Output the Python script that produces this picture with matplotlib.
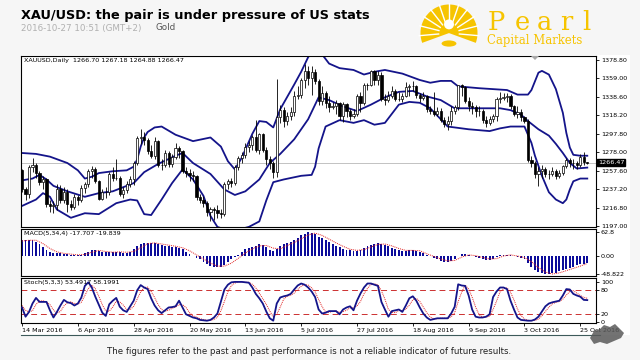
import matplotlib
matplotlib.use("Agg")
import matplotlib.pyplot as plt
from matplotlib.patches import Rectangle, Polygon, Wedge, Circle, Ellipse
import numpy as np

# ---- daily XAUUSD candles, 14 Mar 2016 .. 27 Oct 2016 ----
opens = [
    1258, 1238, 1232, 1262, 1264, 1255, 1245, 1248, 1221, 1219,
    1220, 1238, 1226, 1234, 1221, 1218, 1229, 1225, 1239, 1243,
    1257, 1260, 1246, 1227, 1234, 1234, 1254, 1250, 1250, 1232,
    1236, 1243, 1249, 1266, 1293, 1295, 1291, 1279, 1274, 1290,
    1264, 1264, 1277, 1265, 1273, 1282, 1279, 1257, 1255, 1253,
    1252, 1229, 1225, 1222, 1212, 1216, 1215, 1211, 1210, 1243,
    1246, 1244, 1262, 1272, 1275, 1284, 1286, 1295, 1280, 1298,
    1280, 1270, 1266, 1256, 1316, 1324, 1312, 1317, 1322, 1339,
    1341, 1357, 1367, 1359, 1366, 1356, 1334, 1343, 1332, 1327,
    1329, 1332, 1317, 1331, 1323, 1318, 1320, 1340, 1332, 1351,
    1351, 1367, 1357, 1363, 1336, 1335, 1340, 1345, 1336, 1336,
    1340, 1349, 1350, 1350, 1341, 1337, 1339, 1325, 1323, 1320,
    1323, 1313, 1309, 1312, 1323, 1327, 1351, 1349, 1334, 1328,
    1327, 1323, 1323, 1313, 1310, 1314, 1318, 1336, 1337, 1338,
    1339, 1328, 1320, 1322, 1316, 1312, 1269, 1266, 1254, 1257,
    1260, 1254, 1254, 1257, 1252, 1255, 1263, 1269, 1266, 1266,
    1264, 1273, 1266.70]
highs = [
    1260, 1240, 1264, 1272, 1266, 1257, 1252, 1250, 1225, 1224,
    1243, 1242, 1240, 1238, 1226, 1232, 1231, 1242, 1245, 1260,
    1263, 1262, 1247, 1238, 1240, 1256, 1262, 1270, 1252, 1240,
    1246, 1252, 1268, 1296, 1303, 1300, 1293, 1286, 1295, 1291,
    1270, 1280, 1279, 1276, 1288, 1285, 1280, 1262, 1259, 1257,
    1253, 1232, 1230, 1224, 1218, 1218, 1220, 1216, 1245, 1248,
    1250, 1264, 1274, 1278, 1288, 1290, 1297, 1313, 1299, 1299,
    1284, 1274, 1268, 1358, 1330, 1327, 1322, 1327, 1345, 1350,
    1359, 1375, 1372, 1372, 1369, 1358, 1350, 1345, 1340, 1333,
    1335, 1333, 1333, 1332, 1325, 1325, 1342, 1344, 1354, 1354,
    1368, 1368, 1367, 1366, 1342, 1345, 1350, 1347, 1344, 1343,
    1355, 1353, 1356, 1352, 1343, 1344, 1341, 1329, 1344, 1327,
    1326, 1316, 1318, 1328, 1330, 1352, 1353, 1350, 1338, 1333,
    1330, 1329, 1325, 1317, 1318, 1320, 1338, 1344, 1343, 1343,
    1342, 1330, 1328, 1325, 1318, 1314, 1274, 1268, 1262, 1264,
    1262, 1258, 1262, 1260, 1258, 1264, 1272, 1272, 1270, 1268,
    1276, 1278, 1267.18]
lows = [
    1234, 1226, 1228, 1256, 1250, 1242, 1238, 1218, 1212, 1211,
    1215, 1222, 1222, 1212, 1214, 1216, 1220, 1223, 1233, 1240,
    1250, 1244, 1225, 1225, 1228, 1231, 1246, 1247, 1230, 1228,
    1233, 1240, 1242, 1264, 1287, 1286, 1276, 1272, 1270, 1262,
    1258, 1262, 1262, 1262, 1270, 1272, 1255, 1251, 1246, 1246,
    1226, 1222, 1218, 1208, 1202, 1204, 1206, 1206, 1208, 1238,
    1240, 1242, 1258, 1266, 1272, 1278, 1280, 1278, 1276, 1278,
    1264, 1260, 1250, 1251, 1310, 1306, 1308, 1313, 1318, 1336,
    1337, 1348, 1352, 1341, 1353, 1330, 1330, 1326, 1322, 1325,
    1320, 1313, 1311, 1316, 1313, 1315, 1318, 1322, 1330, 1346,
    1350, 1352, 1352, 1334, 1330, 1333, 1337, 1334, 1334, 1333,
    1338, 1340, 1345, 1337, 1333, 1335, 1322, 1320, 1318, 1318,
    1311, 1306, 1302, 1308, 1320, 1324, 1340, 1332, 1323, 1320,
    1316, 1318, 1310, 1306, 1308, 1311, 1312, 1332, 1335, 1333,
    1325, 1317, 1315, 1312, 1310, 1267, 1262, 1250, 1241, 1250,
    1251, 1249, 1252, 1249, 1250, 1253, 1261, 1262, 1260, 1260,
    1262, 1264, 1264.88]
closes = [
    1238, 1232, 1262, 1264, 1255, 1245, 1248, 1221, 1219, 1220,
    1238, 1226, 1234, 1221, 1218, 1229, 1225, 1239, 1243, 1257,
    1260, 1246, 1227, 1234, 1234, 1254, 1250, 1250, 1232, 1236,
    1243, 1249, 1266, 1293, 1295, 1291, 1279, 1274, 1290, 1264,
    1264, 1277, 1265, 1273, 1282, 1279, 1257, 1255, 1253, 1252,
    1229, 1225, 1222, 1212, 1216, 1215, 1211, 1210, 1243, 1246,
    1244, 1262, 1272, 1275, 1284, 1286, 1295, 1280, 1298, 1280,
    1270, 1266, 1256, 1316, 1324, 1312, 1317, 1322, 1339, 1341,
    1357, 1367, 1359, 1366, 1356, 1334, 1343, 1332, 1327, 1329,
    1332, 1317, 1331, 1323, 1318, 1320, 1340, 1332, 1351, 1351,
    1367, 1357, 1363, 1336, 1335, 1340, 1345, 1336, 1336, 1340,
    1349, 1350, 1350, 1341, 1337, 1339, 1325, 1323, 1320, 1323,
    1313, 1309, 1312, 1323, 1327, 1351, 1349, 1334, 1328, 1327,
    1323, 1323, 1313, 1310, 1314, 1318, 1336, 1337, 1338, 1339,
    1328, 1320, 1322, 1316, 1312, 1269, 1266, 1254, 1257, 1260,
    1254, 1254, 1257, 1252, 1255, 1263, 1269, 1266, 1266, 1264,
    1273, 1267, 1266.47]

# Bollinger bands, read at the bars where they bend
bb_upper_idx = [0, 4, 8, 13, 16, 18, 20, 22, 26, 30, 32, 33, 34, 35, 36, 38, 40, 44, 49, 54,
                57, 59, 61, 63, 66, 68, 70, 72, 74, 78, 80, 82, 84, 86, 88, 91, 95, 98, 101, 104,
                109, 114, 117, 120, 123, 125, 131, 139, 142, 145, 146, 148, 149, 151, 153, 155, 156, 157, 158, 160, 162]
bb_upper = [1277, 1276, 1273, 1266, 1258, 1249, 1251, 1255, 1257, 1258, 1262, 1270, 1284, 1294, 1300, 1305, 1306, 1297, 1290, 1294,
            1284, 1268, 1259, 1272, 1298, 1312, 1311, 1305, 1325, 1352, 1366, 1382, 1392, 1385, 1375, 1370, 1368, 1363, 1366, 1368,
            1364, 1357, 1354, 1356, 1356, 1350, 1348, 1346, 1341, 1341, 1346, 1365, 1367, 1363, 1347, 1321, 1299, 1283, 1275, 1274, 1274]
bb_mid_idx = [0, 3, 5, 7, 9, 13, 18, 22, 26, 30, 32, 33, 35, 39, 44, 46, 49, 54, 58, 61,
              64, 68, 71, 74, 78, 82, 85, 88, 92, 96, 100, 104, 108, 112, 116, 120, 124, 130, 137, 140,
              143, 145, 148, 151, 153, 155, 157, 159, 162]
bb_mid = [1247, 1249, 1253, 1248, 1241, 1235, 1229, 1233, 1235, 1241, 1244, 1248, 1256, 1265, 1274, 1277, 1266, 1254, 1237, 1231,
          1235, 1248, 1266, 1276, 1292, 1314, 1338, 1335, 1328, 1323, 1330, 1338, 1344, 1345, 1339, 1335, 1326, 1326, 1326, 1324,
          1319, 1312, 1303, 1296, 1287, 1277, 1266, 1260, 1261]
bb_lower_idx = [0, 4, 6, 8, 10, 14, 18, 22, 27, 31, 33, 35, 37, 40, 43, 46, 49, 52, 54, 56,
                59, 62, 65, 68, 70, 72, 75, 80, 83, 84, 85, 87, 91, 95, 98, 101, 104, 106, 108, 111,
                114, 117, 120, 122, 128, 134, 137, 140, 144, 146, 147, 149, 151, 153, 155, 156, 157, 158, 160, 162]
bb_lower = [1219, 1226, 1233, 1229, 1215, 1206, 1211, 1210, 1222, 1226, 1225, 1210, 1209, 1226, 1244, 1259, 1248, 1230, 1208, 1196,
            1192, 1193, 1196, 1202, 1225, 1245, 1248, 1252, 1253, 1262, 1282, 1306, 1313, 1310, 1313, 1308, 1310, 1320, 1330, 1333,
            1332, 1326, 1314, 1306, 1303, 1301, 1304, 1306, 1306, 1288, 1274, 1252, 1234, 1226, 1222, 1226, 1237, 1246, 1249, 1249]

# MACD(5,34,4) histogram per bar, signal every second bar
macd = [
    42, 43, 43, 42, 38, 32, 24, 17, 12, 9,
    8, 7, 6, 5, 3, 2, 2, 3, 7, 12,
    16, 17, 14, 11, 10, 10, 11, 12, 10, 9,
    8, 11, 18, 27, 33, 36, 36, 35, 34, 31,
    29, 28, 27, 25, 24, 22, 18, 11, 6, 1,
    -4, -9, -15, -22, -27, -29, -29, -28, -24, -16,
    -9, -3, 4, 12, 18, 22, 25, 28, 31, 29,
    24, 17, 14, 20, 27, 31, 34, 38, 42, 48,
    55, 60, 63, 62, 58, 52, 48, 43, 38, 33,
    28, 25, 20, 17, 15, 14, 14, 17, 22, 26,
    30, 33, 34, 33, 30, 26, 22, 19, 15, 14,
    14, 15, 16, 14, 11, 7, 3, 0, -4, -8,
    -12, -15, -15, -12, -7, 1, 5, 5, 3, 0,
    -3, -6, -8, -10, -10, -7, -2, 2, 4, 3,
    2, 0, -2, -5, -8, -18, -28, -36, -42, -46,
    -48.8, -48, -46, -44, -41, -38, -34, -31, -28, -25,
    -22, -20, -17.707]
macd_signal = [
    40, 42, 42, 33, 20, 11, 7, 5, 3, 4,
    10, 15, 12, 10, 11, 10, 12, 22, 33, 35,
    32, 29, 26, 22, 14, 3, -8, -19, -27, -27,
    -19, -6, 8, 19, 27, 28, 21, 19, 28, 36,
    46, 56, 61, 55, 45, 35, 26, 18, 15, 17,
    24, 31, 32, 27, 20, 15, 15, 14, 6, -1,
    -8, -13, -12, -3, 3, 1, -4, -8, -7, 0,
    3, 0, -4, -15, -31, -43, -48, -45, -39, -33,
    -27, -19.839]

# Stochastic(5,3,3)
stoch_main = [
    35, 12, 24, 45, 59, 49, 49, 49, 28, 10,
    24, 40, 54, 48, 46, 40, 45, 60, 89, 98,
    85, 62, 42, 22, 14, 43, 52, 59, 37, 28,
    24, 38, 52, 78, 91, 85, 81, 58, 40, 28,
    21, 28, 35, 36, 38, 52, 35, 18, 14, 10,
    8, 4, 3, 2, 4, 10, 20, 50, 80, 92,
    98, 99, 99, 99, 98, 97, 85, 69, 58, 45,
    25, 8, 2, 45, 60, 63, 65, 69, 80, 90,
    95, 92, 85, 75, 61, 30, 20, 22, 26, 26,
    26, 18, 30, 35, 38, 28, 52, 70, 85, 95,
    95, 92, 89, 49, 30, 12, 26, 28, 30, 24,
    40, 58, 63, 52, 35, 20, 10, 4, 6, 8,
    8, 8, 8, 20, 37, 93, 90, 89, 65, 30,
    12, 10, 10, 12, 18, 61, 75, 85, 85, 81,
    52, 30, 10, 4, 3, 2, 2, 5, 12, 25,
    38, 45, 48, 50, 52, 65, 81, 80, 69, 65,
    62, 54, 53.49]
stoch_signal = [
    40, 28, 24, 27, 43, 51, 52, 49, 42, 29,
    21, 25, 39, 47, 49, 45, 44, 48, 65, 82,
    91, 82, 63, 42, 26, 26, 36, 51, 49, 41,
    30, 30, 38, 56, 74, 85, 86, 75, 60, 42,
    30, 26, 28, 33, 36, 42, 42, 35, 22, 14,
    11, 7, 5, 3, 3, 5, 11, 27, 50, 74,
    90, 96, 99, 99, 98, 98, 93, 84, 71, 57,
    43, 26, 12, 18, 36, 56, 63, 66, 71, 80,
    88, 92, 91, 84, 74, 55, 37, 24, 23, 25,
    26, 23, 25, 28, 34, 34, 39, 50, 69, 83,
    92, 94, 92, 77, 56, 30, 23, 22, 28, 27,
    31, 41, 54, 58, 50, 36, 22, 11, 7, 7,
    8, 8, 8, 12, 22, 50, 73, 91, 81, 61,
    36, 17, 11, 11, 13, 30, 51, 74, 82, 84,
    73, 54, 31, 15, 6, 3, 2, 3, 6, 14,
    25, 36, 44, 48, 50, 56, 66, 75, 77, 71,
    65, 60, 58.20]

date_labels = ['14 Mar 2016', '6 Apr 2016', '28 Apr 2016', '20 May 2016', '13 Jun 2016', '5 Jul 2016',
               '27 Jul 2016', '18 Aug 2016', '9 Sep 2016', '3 Oct 2016', '25 Oct 2016']
price_ticks = [1378.80, 1359.00, 1338.60, 1318.20, 1297.80, 1278.00, 1257.60, 1237.20, 1216.80, 1197.00]
last_price = 1266.47

W, H = 640, 360


def rect(l, t, r, b):
    # pixel box -> figure fraction
    return [l / W, 1 - b / H, (r - l) / W, (b - t) / H]


def fx(x):
    return x / W


def fy(y):
    return 1 - y / H


fig = plt.figure(figsize=(6.4, 3.6), dpi=100, facecolor='#f6f6f6')
fig.patches.append(Rectangle((fx(21), fy(335)), (630 - 21) / W, (335 - 55) / H,
                             transform=fig.transFigure, facecolor='white', edgecolor='none', zorder=-5))

ax_p = fig.add_axes(rect(21, 56, 596, 227))
ax_m = fig.add_axes(rect(21, 229, 596, 276), sharex=ax_p)
ax_s = fig.add_axes(rect(21, 278, 596, 323), sharex=ax_p)

for ax in (ax_p, ax_m, ax_s):
    ax.set_facecolor('white')
    for sp in ax.spines.values():
        sp.set_linewidth(0.8)
        sp.set_color('black')
    ax.yaxis.tick_right()
    ax.tick_params(axis='y', length=2, width=0.6, labelsize=4.6, pad=1.5)
    ax.tick_params(axis='x', length=0, labelbottom=False)

ax_p.set_xlim(-0.3, 164.5)

# ---- price panel ----
o = np.array(opens)
h = np.array(highs)
lo = np.array(lows)
c = np.array(closes)
x = np.arange(len(c))
up = c >= o

ax_p.axhline(last_price, color='#b8b8b8', lw=0.6, zorder=1)
for idx, vals in ((bb_upper_idx, bb_upper), (bb_mid_idx, bb_mid), (bb_lower_idx, bb_lower)):
    ax_p.plot(idx, vals, color='#14148a', lw=1.3, zorder=2, solid_joinstyle='round')
ax_p.vlines(x, lo, h, color='black', lw=0.6, zorder=3)
ax_p.bar(x[up], c[up] - o[up], bottom=o[up], width=0.62, facecolor='white',
         edgecolor='black', linewidth=0.5, zorder=4)
ax_p.bar(x[~up], o[~up] - c[~up], bottom=c[~up], width=0.62, facecolor='black',
         edgecolor='black', linewidth=0.5, zorder=4)

ax_p.set_ylim(1195.9, 1383.3)
ax_p.set_yticks(price_ticks)
ax_p.set_yticklabels(['%.2f' % v for v in price_ticks])
ax_p.text(0.005, 0.988, 'XAUUSD,Daily  1266.70 1267.18 1264.88 1266.47', transform=ax_p.transAxes,
          fontsize=4.6, va='top', ha='left', color='black')
ax_p.annotate('1266.47', xy=(1, last_price), xycoords=('axes fraction', 'data'), xytext=(1.5, 0),
              textcoords='offset points', va='center', ha='left', fontsize=4.6, color='white',
              annotation_clip=False, zorder=10,
              bbox=dict(boxstyle='square,pad=0.15', fc='black', ec='black'))

# ---- MACD panel ----
ax_m.bar(x, macd, width=0.55, color='#0c0c9a', zorder=2)
ax_m.plot(x[::2], macd_signal, color='#e02020', lw=0.7, ls=(0, (1, 1)), zorder=3)
ax_m.set_ylim(-53.3, 72)
ax_m.set_yticks([62.8, 0.0, -48.822])
ax_m.set_yticklabels(['62.8', '0.00', '-48.822'])
ax_m.text(0.005, 0.95, 'MACD(5,34,4) -17.707 -19.839', transform=ax_m.transAxes,
          fontsize=4.6, va='top', ha='left', color='black')

# ---- Stochastic panel ----
ax_s.axhline(80, color='#cc3030', lw=0.7, ls=(0, (6, 4)), zorder=1)
ax_s.axhline(20, color='#cc3030', lw=0.7, ls=(0, (6, 4)), zorder=1)
ax_s.plot(x, stoch_signal, color='#e02020', lw=0.7, ls=(0, (1, 1)), zorder=2)
ax_s.plot(x, stoch_main, color='#14148a', lw=1.3, zorder=3)
ax_s.set_ylim(-3.75, 108.75)
ax_s.set_yticks([100, 80, 20, 0])
ax_s.set_yticklabels(['100', '80', '20', '0'])
ax_s.text(0.005, 0.95, 'Stoch(5,3,3) 53.4917 58.1991', transform=ax_s.transAxes,
          fontsize=4.6, va='top', ha='left', color='black')
ax_s.set_xticks(np.arange(0, len(c), 16))
ax_s.set_xticklabels(date_labels, ha='left')
ax_s.tick_params(axis='x', length=2, width=0.6, labelbottom=True, labelsize=4.6, pad=1.5)

# small chart-shift marker, bottom frame line and the grey watermark blob
fig.patches.append(Polygon([(fx(531), fy(56)), (fx(539), fy(56)), (fx(535), fy(60))],
                           closed=True, transform=fig.transFigure, facecolor='#a8a8a8',
                           edgecolor='none', zorder=5))
fig.lines.append(plt.Line2D([fx(21), fx(600)], [fy(334.5), fy(334.5)], transform=fig.transFigure,
                            color='#3d5a5a', lw=0.8))
blob = [(590, 338), (594, 331), (600, 329), (604, 325), (610, 327), (615, 324), (620, 329),
        (624, 333), (621, 338), (614, 341), (607, 344), (600, 342), (594, 344)]
fig.patches.append(Polygon([(fx(a), fy(b)) for a, b in blob], closed=True,
                           transform=fig.transFigure, facecolor='#5a5a5a', edgecolor='none',
                           alpha=0.85, zorder=6))

# ---- header ----
fig.text(fx(21), fy(16), 'XAU/USD: the pair is under pressure of US stats', fontsize=9.3,
         fontweight='bold', va='center', ha='left', color='black')
fig.text(fx(21), fy(28), '2016-10-27 10:51 (GMT+2)', fontsize=6.3, va='center', ha='left',
         color='#b0b0b0')
fig.text(fx(155), fy(28), 'Gold', fontsize=6.3, va='center', ha='left', color='#555555')
fig.text(fx(309), fy(351), 'The figures refer to the past and past performance is not a reliable '
         'indicator of future results.', fontsize=6.2, va='center', ha='center', color='#222222')

# ---- logo ----
gold = '#f6c400'
lax = fig.add_axes(rect(418, 2, 480, 48))
lax.set_xlim(-1.25, 1.25)
lax.set_ylim(-0.6, 1.25)
lax.axis('off')
lax.add_patch(Wedge((0, 0), 1.15, -20, 200, facecolor=gold, edgecolor='none'))
for ang in np.arange(-5, 190, 19):
    a = np.deg2rad(ang)
    lax.plot([0.42 * np.cos(a), 1.2 * np.cos(a)], [0.42 * np.sin(a), 1.2 * np.sin(a)],
             color='white', lw=1.0)
lax.add_patch(Circle((0, 0.35), 0.2, facecolor='white', edgecolor='none'))
lax.add_patch(Ellipse((0, -0.42), 0.6, 0.25, facecolor=gold, edgecolor='none'))

for ch, px_ in zip('Pearl', [488, 515, 537, 560, 582]):
    fig.text(fx(px_), fy(30), ch, fontsize=18.5, family='DejaVu Serif', color=gold,
             va='baseline', ha='left')
fig.text(fx(487), fy(44), 'Capital Markets', fontsize=8.4, family='DejaVu Serif', color=gold,
         va='baseline', ha='left')

fig.savefig('out.png', dpi=100, facecolor=fig.get_facecolor())
